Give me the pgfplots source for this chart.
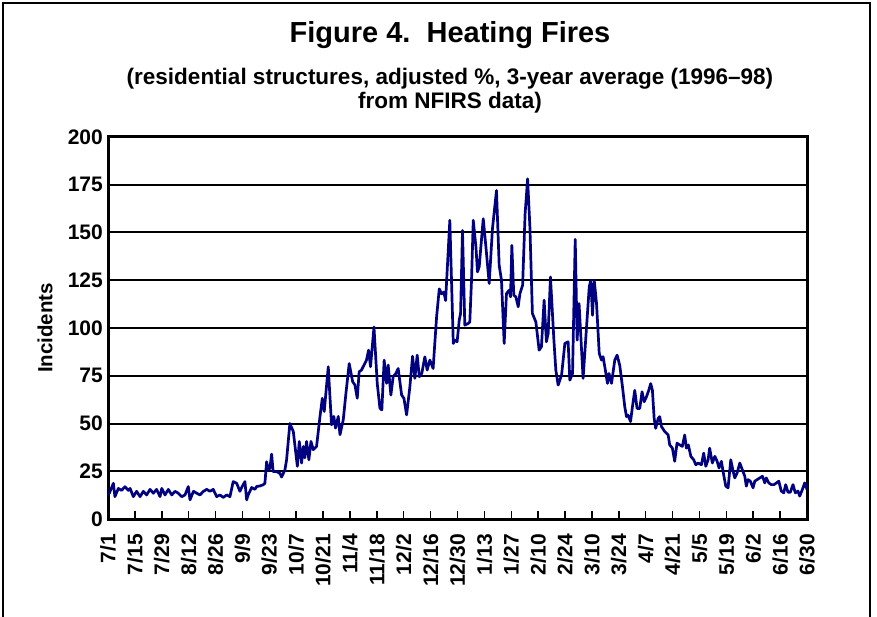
\documentclass[border=0pt]{standalone}
\usepackage{pgfplots}
\pgfplotsset{compat=1.18}
\usepackage{fontspec}
\setmainfont{Liberation Sans}
\definecolor{navyline}{RGB}{0,0,128}
\pgfplotstableread{
day val
0.0 14
0.7 13.5
2.8 18.7
3.6 11.7
5.4 16
7.1 15
8.8 16.9
10.6 15
11.5 16
13.2 11.7
14.9 14.5
16.7 11.7
18.4 14.5
20.1 12.6
21.9 15.5
23.6 13.5
25.3 15.5
27.1 11.7
28.0 16
29.7 12.6
31.4 15.5
33.2 12.6
34.9 14.5
36.6 13.5
38.4 11.7
40.1 12.6
41.8 17
42.7 10
44.5 14.5
46.2 13.5
47.9 12.6
49.7 14.5
51.4 15.5
53.1 14.5
54.8 15.5
56.6 11.7
58.3 12.6
60.0 11.3
61.8 12.6
63.5 11.7
65.2 19.6
67.0 18.7
68.7 14.5
69.6 16.5
71.3 19.6
72.2 10
73.0 12.6
74.8 16.5
76.5 15.5
77.4 17
79.1 17.3
80.8 17.9
81.7 18.7
82.6 30
83.4 25.6
84.3 26.5
85.2 34
86.0 24.8
87.8 24.8
89.5 23.9
90.4 22
92.1 25.6
93.0 31
94.7 50
96.5 45.8
98.6 27.6
99.6 40.6
100.8 29.3
101.7 38
102.5 32
103.4 40.6
104.6 31
105.7 40.6
106.9 36.3
108.6 38
110.4 53.7
111.6 63.2
112.6 56.3
114.7 79.7
116.4 49.3
117.6 53.7
118.5 47.6
119.9 53.7
120.8 44.1
122.5 51.9
123.9 65.8
125.6 81.4
127.4 71.9
128.6 70.1
129.8 63.2
130.8 77.1
132.0 78
133.3 80.6
134.6 83.2
135.7 88.4
136.7 79.7
138.5 100.5
140.2 71
141.6 58
142.6 57.1
143.8 83.2
145.1 71
145.9 80.6
147.3 64.9
148.5 74.5
149.9 76.2
151.1 78.8
152.9 64.9
154.1 63.2
155.5 54.5
157.2 69.3
158.6 85.2
159.8 73.6
161.0 85.8
162.1 74.5
163.4 76.2
165.0 84.9
166.2 78
167.6 83.2
169.3 78.8
171.1 105.7
172.5 120.5
173.7 117.9
174.9 118.8
175.8 114.4
178.0 156.4
179.8 91.9
180.6 93.6
181.8 92.8
182.9 104.1
183.6 107.6
184.6 151.1
185.8 101.5
187.6 102.4
188.4 103.2
189.3 125
190.2 156.4
191.6 142.4
192.4 129.4
193.3 132
195.4 157.2
196.8 142.4
198.5 123.3
200.2 152
202.3 172
203.7 132.8
204.9 125
206.3 91.9
207.5 118
208.9 119.8
209.6 116.3
210.3 143.3
211.3 117.2
212.4 116.3
213.6 111.1
214.5 118
215.9 122.4
217.2 159.8
218.5 178.1
219.7 152.9
221.0 107.6
222.8 103.2
224.5 88.4
225.7 90.2
227.1 114.6
228.3 92.8
229.2 97.1
230.4 126.7
232.2 93.6
233.2 78
234.4 70.1
236.2 75.4
237.9 91.9
239.6 92.8
240.5 72.7
241.9 76.2
243.3 146.4
244.3 93.6
245.3 112.8
247.4 73.6
249.2 100.6
250.6 121.5
251.4 125
252.3 106.7
253.2 125
254.4 112.8
255.8 86.7
257.0 83.2
257.8 85
258.7 79.7
260.1 71
260.9 76.2
262.2 71
263.9 83.2
265.1 85.8
266.5 80.4
267.9 69.2
269.1 58.8
270.0 53.6
270.8 54.4
272.1 51
273.1 58.8
274.3 67.4
275.5 57.9
276.9 57.9
278.1 66.6
279.2 61.4
280.4 64
281.6 67.4
282.6 70.9
283.5 67.4
284.4 52.7
285.2 47.5
286.5 52.7
287.3 53.6
288.2 48.4
289.9 45.8
291.7 44
292.5 38.8
293.9 37.1
295.1 30.2
296.3 39.7
297.7 38.8
299.1 38
300.3 44
301.2 37.1
302.2 38.8
303.5 32.8
305.0 31
306.1 28.4
307.3 29.3
309.0 28.4
310.2 34.5
311.3 27.6
312.5 31
313.3 37.1
314.7 29.3
316.0 32.8
317.2 30.2
318.2 26.7
319.4 30.2
320.6 23.2
321.7 17.2
322.9 16.3
324.3 31
325.5 25
326.4 21.5
327.6 24.1
329.0 29.3
330.3 25.8
331.6 22.4
332.4 17.2
333.3 20.6
334.5 19.8
335.9 16.3
336.8 19.8
338.0 20.6
339.4 21.5
340.8 22.4
342.0 18.9
342.8 21.5
344.1 18.9
345.4 18
346.8 18
348.1 18.9
349.3 19.8
350.6 14.6
351.9 13.7
352.9 18
354.1 14
355.3 14
356.7 18
357.9 13.7
359.3 14.6
360.2 12
361.6 15.5
362.8 18.9
364.0 15.5
}\heating
\begin{document}
\begin{tikzpicture}[x=1pt,y=1pt]
\useasboundingbox (0,0) rectangle (877,616);
\draw[line width=2pt] (3,-10) -- (3,613) -- (870,613) -- (870,-10);
\node[font=\fontsize{29}{34}\selectfont\bfseries] at (450,581) {Figure 4.\ \ Heating Fires};
\node[font=\fontsize{22.5}{24}\selectfont\bfseries, align=center] at (450,525) {(residential structures, adjusted \%, 3-year average (1996--98)\\from NFIRS data)};
\begin{axis}[
  at={(108pt,97pt)}, anchor=south west,
  scale only axis, width=699pt, height=382pt,
  xmin=0, xmax=364, ymin=0, ymax=200,
  xtick={0,14,...,364},
  xticklabels={7/1,7/15,7/29,8/12,8/26,9/9,9/23,10/7,10/21,11/4,11/18,12/2,12/16,12/30,1/13,1/27,2/10,2/24,3/10,3/24,4/7,4/21,5/5,5/19,6/2,6/16,6/30},
  ytick={0,25,...,200},
  xtick pos=bottom, ytick pos=left,
  tick align=inside,
  major tick length=8pt,
  xtick style={black, line width=1.5pt},
  ytick style={draw=none},
  ymajorgrids,
  grid style={black, line width=2pt},
  axis line style={black, line width=3pt},
  /pgf/number format/assume math mode=true,
  ticklabel style={font=\fontsize{21}{21}\selectfont\bfseries, inner sep=0pt},
  xticklabel style={rotate=90, anchor=east},
  xticklabel shift=15pt,
  yticklabel style={anchor=east},
  yticklabel shift=5pt,
  ylabel={Incidents},
  ylabel style={font=\fontsize{20.5}{21}\selectfont\bfseries, at={(axis description cs:-0.0901,0.5)}, anchor=center},
]
\addplot[navyline, line width=2.7pt, line join=round, mark=none] table[x=day, y=val] {\heating};
\end{axis}
\end{tikzpicture}
\end{document}
